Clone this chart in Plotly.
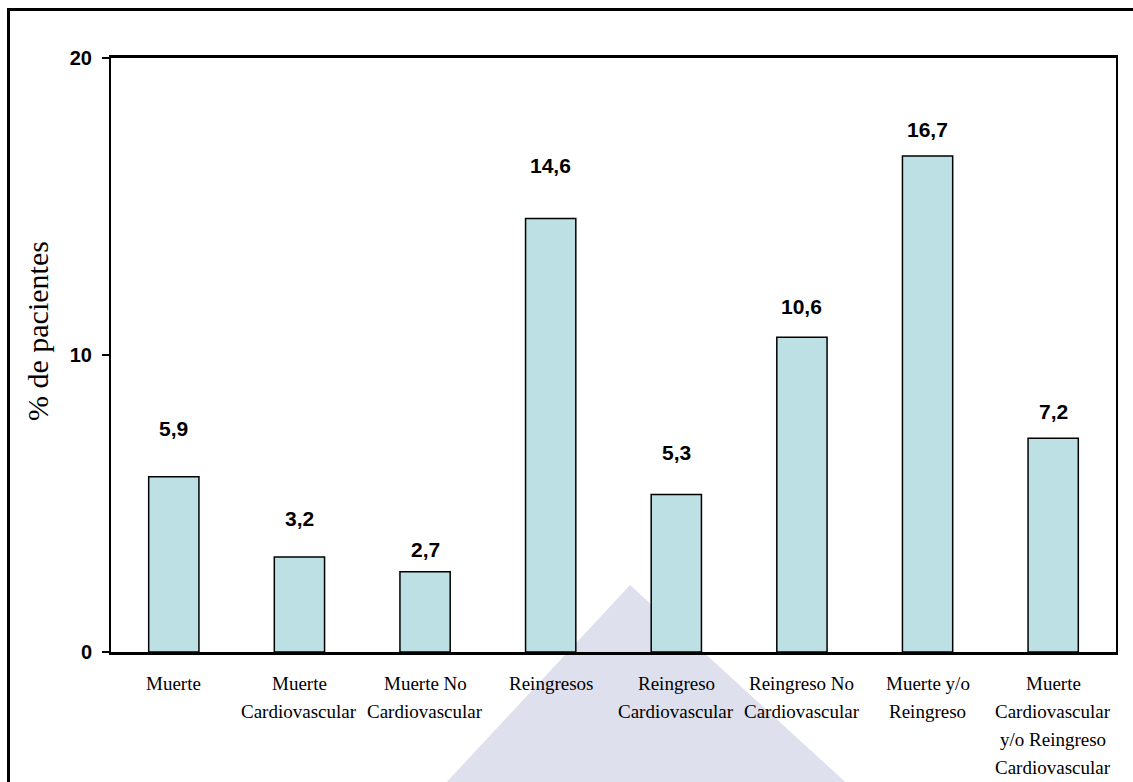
import plotly.graph_objects as go

# ---- data ----
categories = [
    "Muerte",
    "Muerte<br>Cardiovascular",
    "Muerte No<br>Cardiovascular",
    "Reingresos",
    "Reingreso<br>Cardiovascular",
    "Reingreso No<br>Cardiovascular",
    "Muerte y/o<br>Reingreso",
    "Muerte<br>Cardiovascular<br>y/o Reingreso<br>Cardiovascular",
]
values = [5.9, 3.2, 2.7, 14.6, 5.3, 10.6, 16.7, 7.2]
y_ticks = [0, 10, 20]
y_tick_labels = ["0", "10", "20"]
y_title = "% de pacientes"

# layout: where each value label sits (data units), as placed in the original
label_y = [7.51, 4.51, 3.44, 16.38, 6.71, 11.64, 17.59, 8.10]

W, H = 1133, 782
ML, MR, MT, MB = 111, 17, 58, 130
PW, PH = W - ML - MR, H - MT - MB


def px(x):
    return (x - ML) / PW


def py(y):
    return (H - MB - y) / PH


SERIF = "Times New Roman, Liberation Serif, serif"
SANS = "Arial, Liberation Sans, sans-serif"

fig = go.Figure()
fig.add_trace(go.Bar(
    x=categories,
    y=values,
    width=0.4,
    marker=dict(color="#BCE0E3", line=dict(color="black", width=1.5)),
    hoverinfo="skip",
))

annotations = []
for c, v, ly in zip(categories, values, label_y):
    annotations.append(dict(
        x=c, y=ly, xref="x", yref="y", text=f"{v:.1f}".replace(".", ","),
        showarrow=False, xanchor="center", yanchor="middle",
        font=dict(family=SANS, size=21, color="black", weight="bold"),
    ))
    for j, line in enumerate(c.split("<br>")):
        annotations.append(dict(
            x=c, y=0, xref="x", yref="y", text=line, showarrow=False,
            xanchor="center", yanchor="middle", yshift=-(31 + 28 * j),
            font=dict(family=SERIF, size=19, color="black"),
        ))

annotations.append(dict(
    x=px(37), y=py(331), xref="paper", yref="paper", text=y_title,
    showarrow=False, textangle=-90, xanchor="center", yanchor="middle",
    font=dict(family=SERIF, size=30, color="black"),
))

shapes = [
    # faint watermark triangle
    dict(type="path", xref="paper", yref="paper", layer="below",
         path=f"M {px(630)} {py(585)} L {px(865)} {py(800)} L {px(430)} {py(800)} Z",
         fillcolor="#DEE0EE", line=dict(width=0)),
    # outer frame
    dict(type="rect", xref="paper", yref="paper", layer="above",
         x0=px(8.5), y0=py(9.5), x1=px(1150), y1=py(800),
         line=dict(color="black", width=3), fillcolor="rgba(0,0,0,0)"),
]

fig.update_layout(
    width=W, height=H,
    margin=dict(l=ML, r=MR, t=MT, b=MB),
    paper_bgcolor="white",
    plot_bgcolor="rgba(0,0,0,0)",
    showlegend=False,
    annotations=annotations,
    shapes=shapes,
    bargap=0.6,
)
fig.update_xaxes(
    type="category", range=[-0.5, len(categories) - 0.5],
    showticklabels=False, ticks="", showgrid=False, zeroline=False,
    showline=True, linecolor="black", linewidth=2.5, mirror=True,
)
fig.update_yaxes(
    range=[0, 20], tickvals=y_ticks, ticktext=y_tick_labels,
    ticks="outside", ticklen=7, tickwidth=2, tickcolor="black",
    tickfont=dict(family=SANS, size=20, color="black", weight="bold"),
    ticklabelstandoff=6,
    showgrid=False, zeroline=False,
    showline=True, linecolor="black", linewidth=2, mirror=True,
)

fig.write_html("out.html")
